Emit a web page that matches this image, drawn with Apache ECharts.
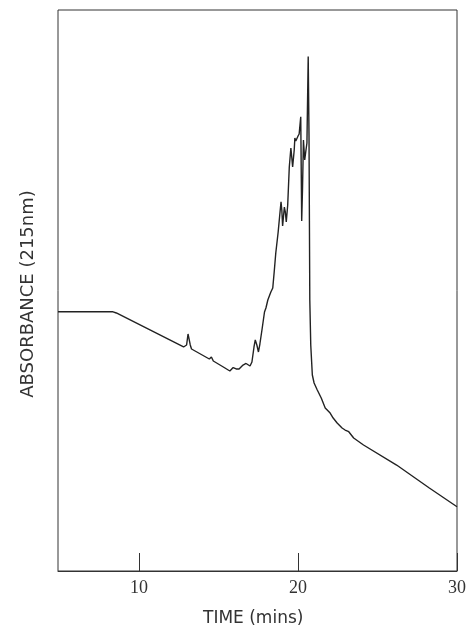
<!DOCTYPE html>
<html>
<head>
<meta charset="utf-8">
<script src="https://cdn.jsdelivr.net/npm/echarts@6/dist/echarts.min.js"></script>
<style>
html,body{margin:0;padding:0;background:#fff;}
#c{width:469px;height:630px;}
</style>
</head>
<body>
<div id="c"></div>
<script>
// Time (mins)
var time = [4.9, 8.32, 8.57, 12.80, 12.99, 13.08, 13.15, 13.22, 13.30, 14.42, 14.55, 14.67, 15.30, 15.71,
  15.92, 16.11, 16.29, 16.54, 16.73, 16.98, 17.10, 17.23, 17.31, 17.41, 17.51, 17.60, 17.73, 17.89,
  17.98, 18.10, 18.29, 18.41, 18.50, 18.60, 18.75, 18.85, 18.93, 18.98, 19.03, 19.14, 19.20, 19.26,
  19.35, 19.45, 19.55, 19.61, 19.66, 19.76, 19.80, 19.86, 19.93, 20.00, 20.07, 20.17, 20.23, 20.28,
  20.34, 20.42, 20.50, 20.56, 20.64, 20.69, 20.74, 20.80, 20.90, 21.01, 21.21, 21.46, 21.71, 22.02,
  22.21, 22.46, 22.77, 22.96, 23.19, 23.50, 24.12, 26.20, 28.26, 30.00];
// Absorbance (relative units)
var absorbance = [46.22, 46.22, 45.99, 39.93, 40.29, 42.25, 42.42, 40.29, 39.57, 37.79, 38.15, 37.43, 36.36, 35.65,
  36.27, 36.01, 36.01, 36.72, 36.99, 36.54, 37.25, 39.93, 41.18, 40.29, 39.04, 40.46, 42.96, 46.17,
  46.88, 48.31, 49.73, 50.45, 53.30, 56.68, 60.43, 63.46, 65.83, 64.35, 61.50, 64.88, 63.99, 62.21,
  65.24, 72.01, 75.40, 73.62, 72.01, 75.04, 77.18, 76.65, 76.83, 77.54, 77.90, 80.98, 62.39, 67.91,
  76.83, 73.26, 75.04, 76.29, 91.71, 77.72, 48.31, 40.29, 34.94, 33.51, 32.26, 30.84, 29.06, 28.16,
  27.27, 26.38, 25.49, 25.13, 24.83, 23.71, 22.46, 18.89, 14.80, 11.46];
var xTicks = [10, 20, 30];
var xTitle = 'TIME (mins)';
var yTitle = 'ABSORBANCE (215nm)';

var pts = time.map(function (t, i) { return [t, absorbance[i]]; });

var chart = echarts.init(document.getElementById('c'), null, {renderer: 'canvas'});
chart.setOption({
  animation: false,
  backgroundColor: '#fff',
  grid: {left: 58, right: 8, top: 10, bottom: 59, show: true, borderColor: '#333', borderWidth: 1, backgroundColor: 'transparent'},
  xAxis: {
    type: 'value', min: 4.9, max: 30,
    axisLine: {show: true, lineStyle: {color: '#333', width: 1}},
    axisTick: {show: true, inside: true, length: 18, customValues: xTicks, lineStyle: {color: '#333', width: 1}},
    axisLabel: {show: true, customValues: xTicks, margin: 8, color: '#333', fontFamily: 'Liberation Serif', fontSize: 18},
    splitLine: {show: false}
  },
  yAxis: {
    type: 'value', min: 0, max: 100,
    axisLine: {show: false}, axisTick: {show: false}, axisLabel: {show: false}, splitLine: {show: false}
  },
  graphic: [
    {type: 'text', left: 203, top: 610, style: {text: xTitle, fontFamily: 'DejaVu Sans', fontSize: 17, fill: '#333'}},
    {type: 'text', x: 28, y: 294, rotation: Math.PI / 2, style: {text: yTitle, fontFamily: 'DejaVu Sans', fontSize: 18, fill: '#333', align: 'center', verticalAlign: 'middle'}}
  ],
  series: [{
    type: 'line', data: pts, showSymbol: false, symbol: 'none',
    lineStyle: {color: '#222', width: 1.4}, smooth: false
  }]
});
</script>
</body>
</html>
